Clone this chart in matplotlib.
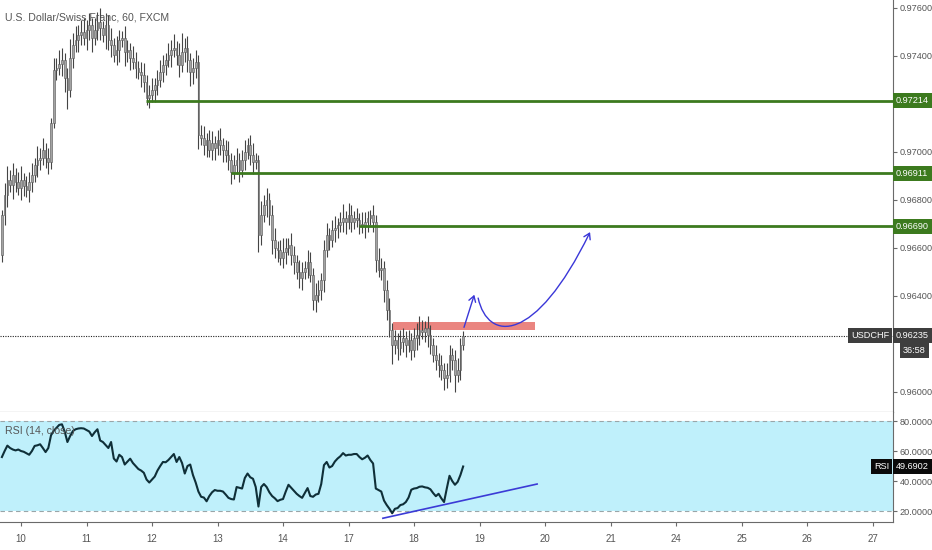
import numpy as np
import matplotlib
matplotlib.use("Agg")
import matplotlib.pyplot as plt
from matplotlib.path import Path
from matplotlib.patches import FancyArrowPatch, Rectangle
import matplotlib.transforms as mtransforms

plt.rcParams['font.family'] = ['Liberation Sans', 'DejaVu Sans']

# =========================================
# Data (USD/CHF, 60 min, FXCM)
# =========================================
TITLE = "U.S. Dollar/Swiss Franc, 60, FXCM"
SYMBOL = "USDCHF"
LAST_PRICE = 0.96235
COUNTDOWN = "36:58"
RSI_LAST = 49.6902

day_labels = ['10', '11', '12', '13', '14', '17', '18', '19', '20', '21', '24', '25', '26', '27']
FIRST_BAR_HOUR = -7          # first bar relative to start of day "10"
FIRST_OPEN = 0.96570

closes = [
    0.96737, 0.96821, 0.96883, 0.96862, 0.96904, 0.96875, 0.96850, 0.96883, 0.96858, 0.96841,
    0.96875, 0.96904, 0.96946, 0.96966, 0.96975, 0.97008, 0.96975, 0.96958, 0.97121, 0.97341,
    0.97350, 0.97366, 0.97383, 0.97308, 0.97258, 0.97391, 0.97446, 0.97466, 0.97487, 0.97500,
    0.97475, 0.97508, 0.97529, 0.97475, 0.97508, 0.97541, 0.97516, 0.97487, 0.97529, 0.97466,
    0.97446, 0.97404, 0.97425, 0.97466, 0.97475, 0.97416, 0.97425, 0.97391, 0.97375, 0.97350,
    0.97333, 0.97320, 0.97291, 0.97225, 0.97237, 0.97258, 0.97279, 0.97300, 0.97333, 0.97362,
    0.97383, 0.97404, 0.97425, 0.97433, 0.97404, 0.97362, 0.97416, 0.97433, 0.97383, 0.97333,
    0.97350, 0.97375, 0.97071, 0.97058, 0.97029, 0.97050, 0.97008, 0.97037, 0.97016, 0.97050,
    0.97029, 0.97008, 0.96987, 0.96966, 0.96916, 0.96946, 0.96966, 0.96925, 0.96966, 0.97000,
    0.97029, 0.96987, 0.96958, 0.96966, 0.96654, 0.96737, 0.96779, 0.96800, 0.96737, 0.96633,
    0.96600, 0.96591, 0.96558, 0.96583, 0.96600, 0.96612, 0.96570, 0.96541, 0.96500, 0.96475,
    0.96500, 0.96516, 0.96541, 0.96487, 0.96383, 0.96404, 0.96425, 0.96466, 0.96591, 0.96654,
    0.96633, 0.96675, 0.96683, 0.96696, 0.96708, 0.96725, 0.96708, 0.96737, 0.96708, 0.96725,
    0.96716, 0.96700, 0.96691, 0.96708, 0.96725, 0.96737, 0.96708, 0.96550, 0.96508, 0.96516,
    0.96425, 0.96341, 0.96258, 0.96196, 0.96216, 0.96183, 0.96208, 0.96225, 0.96196, 0.96216,
    0.96175, 0.96225, 0.96237, 0.96258, 0.96250, 0.96266, 0.96237, 0.96196, 0.96154, 0.96133,
    0.96112, 0.96091, 0.96058, 0.96070, 0.96154, 0.96133, 0.96070, 0.96091, 0.96196, 0.96235,
]

# wick lengths beyond the body, in pips
wick_up = [
    2, 5, 6, 4, 5, 3, 4, 6, 3, 4,
    4, 5, 3, 6, 4, 5, 3, 4, 2, 5,
    4, 6, 5, 3, 4, 8, 5, 6, 4, 5,
    6, 4, 5, 3, 5, 4, 6, 3, 5, 4,
    5, 3, 6, 4, 3, 5, 4, 3, 5, 4,
    3, 4, 5, 3, 4, 5, 3, 4, 5, 4,
    3, 5, 4, 6, 3, 5, 8, 4, 5, 3,
    4, 5, 3, 4, 5, 3, 4, 5, 3, 4,
    5, 3, 4, 6, 3, 4, 5, 3, 4, 5,
    3, 4, 5, 3, 2, 6, 4, 5, 3, 4,
    5, 3, 4, 6, 4, 3, 5, 4, 3, 5,
    4, 3, 5, 4, 3, 5, 4, 3, 4, 5,
    3, 4, 5, 3, 4, 6, 3, 5, 4, 3,
    4, 3, 5, 4, 3, 2, 4, 3, 5, 4,
    3, 4, 5, 3, 4, 3, 5, 4, 3, 4,
    3, 4, 5, 6, 4, 3, 5, 4, 3, 4,
    3, 4, 3, 5, 4, 3, 4, 5, 3, 2,
]
wick_dn = [
    3, 4, 5, 3, 6, 4, 3, 5, 4, 3,
    5, 4, 3, 5, 4, 3, 4, 5, 3, 2,
    4, 3, 5, 6, 8, 3, 4, 3, 5, 4,
    3, 5, 4, 6, 3, 4, 5, 3, 6, 4,
    5, 3, 4, 5, 3, 6, 4, 5, 3, 4,
    3, 5, 4, 3, 4, 3, 5, 4, 3, 4,
    4, 3, 5, 3, 4, 5, 3, 4, 5, 6,
    5, 4, 6, 3, 4, 5, 3, 4, 5, 3,
    4, 5, 3, 4, 5, 3, 4, 5, 3, 4,
    3, 4, 5, 3, 7, 4, 3, 5, 4, 6,
    4, 5, 3, 4, 5, 3, 4, 5, 3, 4,
    5, 3, 4, 3, 4, 5, 3, 4, 5, 3,
    4, 3, 5, 4, 3, 4, 5, 3, 4, 3,
    3, 4, 3, 5, 4, 3, 4, 5, 3, 4,
    5, 4, 3, 8, 4, 5, 3, 4, 5, 3,
    4, 3, 5, 4, 3, 4, 5, 4, 3, 4,
    5, 4, 5, 4, 3, 4, 7, 3, 4, 2,
]

rsi = [
    56.0, 60.0, 63.6, 62.0, 61.0, 60.4, 61.0, 60.0, 59.5, 58.5,
    57.5, 60.0, 63.4, 63.8, 64.5, 62.0, 59.3, 62.0, 70.5, 73.5,
    75.5, 77.4, 77.8, 73.0, 66.0, 70.0, 73.3, 74.5, 75.0, 75.2,
    75.0, 74.0, 73.0, 70.0, 72.5, 74.5, 67.0, 66.0, 64.0, 62.0,
    66.0, 55.0, 53.0, 57.5, 56.0, 51.0, 53.0, 54.9, 52.0, 50.0,
    48.0, 47.0, 45.5, 41.0, 39.0, 41.0, 43.0, 47.0, 50.0, 52.7,
    52.5, 54.0, 56.0, 58.0, 52.7, 56.0, 52.0, 45.0, 50.0, 51.0,
    44.0, 39.0, 33.0, 29.5, 29.0, 26.5, 30.0, 32.5, 34.0, 33.5,
    33.5, 33.0, 31.0, 28.8, 28.0, 27.7, 36.0, 35.5, 35.0, 42.0,
    45.0, 42.5, 41.5, 36.0, 23.0, 36.0, 38.0, 36.0, 32.5, 30.0,
    28.5, 26.6, 27.5, 28.0, 33.0, 37.5, 35.5, 33.5, 31.5, 30.0,
    28.8, 32.0, 35.3, 30.0, 29.5, 31.0, 31.5, 38.0, 50.6, 52.7,
    49.0, 50.0, 53.0, 55.0, 56.5, 58.6, 57.0, 57.5, 57.5, 58.0,
    58.0, 56.0, 54.5, 55.5, 57.0, 54.0, 51.7, 35.0, 34.0, 33.0,
    27.0, 24.0, 21.5, 18.5, 21.5, 22.0, 24.0, 24.5, 26.0, 29.0,
    34.2, 35.0, 35.3, 36.2, 36.4, 35.8, 35.5, 34.5, 32.0, 29.9,
    31.5, 28.5, 26.0, 35.0, 43.5, 40.0, 37.5, 39.5, 44.0, 49.69,
]

# horizontal levels and the hour each one starts at
levels = [0.97214, 0.96911, 0.96690]
level_start = [45.8, 77.0, 124.0]

# supply zone (hours, prices)
zone_hours = [136.3, 188.3]
zone_prices = [0.96258, 0.96291]

# projected path drawn on the chart
arrow1 = [(162.0, 0.96258), (166.4, 0.96416)]
arrow2 = [(167.5, 0.96391), (171.1, 0.96208), (188.3, 0.96196), (208.5, 0.96666)]
# RSI trend line
rsi_trend = [(132.6, 15.2), (189.1, 38.0)]

# =========================================
# Style
# =========================================
GREEN = '#3c7a1e'
TEXT_GRAY = '#555555'
AXIS_GRAY = '#6a6a6a'
ARROW_BLUE = '#3a37d8'
LABEL_SIZE = 6.6
W, H = 932, 550
PLOT_RIGHT = 893

fig = plt.figure(figsize=(W / 100, H / 100), dpi=100)
ax = fig.add_axes([0, 1 - 412 / H, PLOT_RIGHT / W, 412 / H])
ax_rsi = fig.add_axes([0, 1 - 522 / H, PLOT_RIGHT / W, 110 / H], sharex=ax)

# =========================================
# Candles
# =========================================
n = len(closes)
hours = np.arange(n) + FIRST_BAR_HOUR
c = np.array(closes)
o = np.concatenate([[FIRST_OPEN], c[:-1]])
top = np.maximum(o, c)
bot = np.minimum(o, c)
hi = top + np.array(wick_up) * 1e-4
lo = bot - np.array(wick_dn) * 1e-4

ax.vlines(hours, lo, hi, color='#444444', lw=0.8, zorder=2)
ax.bar(hours, np.maximum(top - bot, 0.00002), bottom=bot, width=0.62,
       color='#a3a3a3', edgecolor='#555555', linewidth=0.4, zorder=3)

x_min, x_max = -7.7, 319.5
ax.set_xlim(x_min, x_max)
ax.set_ylim(0.97633 - 412 / 24000, 0.97633)

for lvl, h0 in zip(levels, level_start):
    ax.plot([h0, x_max], [lvl, lvl], color=GREEN, lw=2, zorder=4, solid_capstyle='butt')

ax.add_patch(Rectangle((zone_hours[0], zone_prices[0]), zone_hours[1] - zone_hours[0],
                       zone_prices[1] - zone_prices[0], facecolor='#ea8580', edgecolor='none',
                       zorder=1.5))
ax.axhline(LAST_PRICE, color='#222222', lw=0.8, ls=(0, (1, 1.2)), zorder=1)

ax.add_patch(FancyArrowPatch(arrow1[0], arrow1[1], arrowstyle='->,head_length=4,head_width=2.5',
                             color=ARROW_BLUE, lw=1.0, zorder=6))
curve = Path(arrow2, [Path.MOVETO, Path.CURVE4, Path.CURVE4, Path.CURVE4])
ax.add_patch(FancyArrowPatch(path=curve, arrowstyle='->,head_length=4,head_width=2.5',
                             color=ARROW_BLUE, lw=1.0, zorder=6))

fig.text(5 / W, 1 - 17 / H, TITLE, fontsize=7.6, color=TEXT_GRAY, va='center', ha='left')

# price axis
price_ticks = [0.976, 0.974, 0.970, 0.968, 0.966, 0.964, 0.960]
ax.yaxis.tick_right()
ax.set_yticks(price_ticks)
ax.set_yticklabels([f"{t:.5f}" for t in price_ticks])
ax.tick_params(axis='y', colors=AXIS_GRAY, labelcolor=TEXT_GRAY, labelsize=LABEL_SIZE, length=3, pad=2)
ax.tick_params(axis='x', bottom=False, labelbottom=False)
for s in ['left', 'top']:
    ax.spines[s].set_visible(False)
ax.spines['right'].set_color(AXIS_GRAY)
ax.spines['bottom'].set_color('#444444')

trans_p = mtransforms.blended_transform_factory(ax.transAxes, ax.transData)


def axis_box(axis, trans, y, text, fc, side='right', dx=4):
    if side == 'right':
        x, ha = 1 + dx / PLOT_RIGHT, 'left'
    else:
        x, ha = 1 - dx / PLOT_RIGHT, 'right'
    axis.text(x, y, text, transform=trans, ha=ha, va='center', color='white',
              fontsize=LABEL_SIZE, clip_on=False, zorder=10,
              bbox=dict(boxstyle='square,pad=0.35', fc=fc, ec='none'))


for lvl in levels:
    axis_box(ax, trans_p, lvl, f"{lvl:.5f}", GREEN, dx=3)
axis_box(ax, trans_p, LAST_PRICE, f"{LAST_PRICE:.5f}", '#3e3e3e', dx=3)
axis_box(ax, trans_p, LAST_PRICE, SYMBOL, '#3e3e3e', side='left')
axis_box(ax, trans_p, LAST_PRICE - 15 / 24000, COUNTDOWN, '#3e3e3e', dx=10)

# =========================================
# RSI panel
# =========================================
ax_rsi.set_ylim(12.7, 86.0)
ax_rsi.axhspan(20, 80, color='#bff0fb', zorder=0, lw=0)
for lv in (20, 80):
    ax_rsi.axhline(lv, color='#9aa5a8', lw=0.8, ls=(0, (4, 3)), zorder=1)
ax_rsi.plot(hours, rsi, color='#0f2f38', lw=1.5, zorder=3)
ax_rsi.plot([p[0] for p in rsi_trend], [p[1] for p in rsi_trend], color='#3b3bd6', lw=1.2, zorder=4)
ax_rsi.text(5 / PLOT_RIGHT, 1 - 19 / 110, "RSI (14, close)", transform=ax_rsi.transAxes,
            fontsize=7.6, color=TEXT_GRAY, va='center', ha='left')

rsi_ticks = [80, 60, 40, 20]
ax_rsi.yaxis.tick_right()
ax_rsi.set_yticks(rsi_ticks)
ax_rsi.set_yticklabels([f"{t:.4f}" for t in rsi_ticks])
ax_rsi.tick_params(axis='y', colors=AXIS_GRAY, labelcolor=TEXT_GRAY, labelsize=LABEL_SIZE, length=3, pad=2)
ax_rsi.set_xticks(np.arange(len(day_labels)) * 24)
ax_rsi.set_xticklabels(day_labels)
ax_rsi.tick_params(axis='x', colors=AXIS_GRAY, labelcolor=TEXT_GRAY, labelsize=7, length=3, pad=6)
for s in ['left', 'top']:
    ax_rsi.spines[s].set_visible(False)
ax_rsi.spines['right'].set_color(AXIS_GRAY)
ax_rsi.spines['bottom'].set_color(AXIS_GRAY)

trans_r = mtransforms.blended_transform_factory(ax_rsi.transAxes, ax_rsi.transData)
axis_box(ax_rsi, trans_r, RSI_LAST, f"{RSI_LAST:.4f}", '#0a0a0a', dx=3)
axis_box(ax_rsi, trans_r, RSI_LAST, "RSI", '#0a0a0a', side='left')

fig.savefig("out.png", dpi=100, facecolor='white')
